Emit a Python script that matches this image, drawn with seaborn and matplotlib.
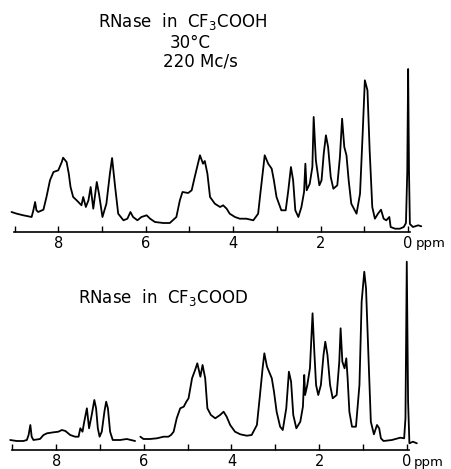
import numpy as np
import pandas as pd
import seaborn as sns
import matplotlib.pyplot as plt


# Spectrum traces (ppm, relative intensity)
top_ppm = [9.07, 8.95, 8.80, 8.61, 8.57, 8.53, 8.50, 8.46, 8.34, 8.27, 8.19, 8.11, 8.00,
           7.92, 7.89, 7.81, 7.76, 7.72, 7.66, 7.58, 7.47, 7.43, 7.37, 7.31, 7.26, 7.20,
           7.12, 7.07, 6.99, 6.90, 6.82, 6.77, 6.70, 6.63, 6.51, 6.42, 6.35, 6.29, 6.19,
           6.10, 5.98, 5.90, 5.79, 5.60, 5.45, 5.30, 5.22, 5.16, 5.03, 4.95, 4.88, 4.76,
           4.69, 4.65, 4.59, 4.53, 4.42, 4.30, 4.23, 4.15, 4.08, 3.96, 3.85, 3.70, 3.54,
           3.43, 3.38, 3.31, 3.28, 3.20, 3.12, 3.07, 3.01, 2.90, 2.80, 2.74, 2.68, 2.63,
           2.58, 2.51, 2.44, 2.38, 2.35, 2.32, 2.25, 2.19, 2.16, 2.11, 2.03, 1.98, 1.93,
           1.88, 1.83, 1.77, 1.71, 1.62, 1.56, 1.51, 1.46, 1.41, 1.36, 1.30, 1.18, 1.10,
           1.04, 0.99, 0.93, 0.88, 0.82, 0.76, 0.69, 0.62, 0.56, 0.50, 0.43, 0.40, 0.30,
           0.19, 0.10, 0.05, 0.02, 0.0, -0.02, -0.04, -0.11, -0.23, -0.30]
top_int = [20, 18.3, 16.7, 15, 21.7, 30, 21.7, 20, 22.3, 35, 51.7, 60, 61.7,
           70, 74.3, 70, 58.3, 45, 35, 31.7, 26.7, 35, 25, 31.7, 45, 23.3,
           50, 38.3, 15, 28.3, 58.3, 74, 45, 18.3, 11.7, 13.3, 20, 15, 11.7,
           15, 16.7, 13.3, 10, 9, 9, 15, 31.7, 40, 39, 41.7, 55, 76.7,
           68.3, 71, 58.3, 35, 28.3, 25, 26.7, 23.3, 18.3, 15, 13.3, 13.3, 11.7,
           18.3, 38.3, 65, 76.7, 68.3, 63.3, 51.7, 35, 21.7, 21.7, 41.7, 65, 51.7,
           21.7, 15, 25, 40, 68.3, 41.7, 48.3, 65, 115, 71.7, 46.7, 51.7, 78.3,
           96.7, 85, 55, 43.3, 46.7, 75, 113.3, 85, 76.7, 51.7, 28.3, 18.3, 38.3,
           98.3, 151.7, 141.7, 81.7, 25, 13.3, 18.3, 22.3, 13.3, 11.7, 15, 5, 3.3,
           3.3, 5, 9, 60, 163, 60, 8, 5, 6.7, 5.7]

# None marks the break in the lower recording
bot_ppm = [9.05, 8.90, 8.75, 8.67, 8.63, 8.59, 8.56, 8.52, 8.37, 8.29, 8.21, 8.06, 7.95,
           7.87, 7.79, 7.68, 7.57, 7.49, 7.45, 7.40, 7.36, 7.30, 7.25, 7.19, 7.13, 7.09,
           7.05, 7.01, 6.96, 6.90, 6.86, 6.82, 6.77, 6.71, 6.54, 6.39, 6.20, None, 6.08,
           6.01, 5.86, 5.70, 5.55, 5.44, 5.38, 5.32, 5.25, 5.17, 5.09, 5.03, 4.98, 4.90,
           4.83, 4.78, 4.71, 4.66, 4.60, 4.55, 4.47, 4.37, 4.26, 4.18, 4.11, 4.03, 3.92,
           3.80, 3.65, 3.54, 3.42, 3.35, 3.29, 3.25, 3.19, 3.08, 3.03, 2.97, 2.89, 2.83,
           2.75, 2.69, 2.64, 2.59, 2.52, 2.43, 2.37, 2.34, 2.32, 2.27, 2.21, 2.15, 2.11,
           2.07, 2.02, 1.96, 1.90, 1.86, 1.81, 1.75, 1.69, 1.60, 1.54, 1.51, 1.47, 1.42,
           1.38, 1.35, 1.31, 1.25, 1.16, 1.08, 1.03, 0.97, 0.93, 0.87, 0.82, 0.75, 0.68,
           0.63, 0.59, 0.53, 0.34, 0.15, 0.06, 0.03, 0.0, -0.03, -0.06, -0.14, -0.23]
bot_int = [10, 9, 9, 10, 15, 25, 13.3, 10, 11, 15, 16.7, 17.7, 18.3,
           20, 19, 15, 13.3, 13.3, 21.7, 18.3, 28.3, 41.7, 21.7, 35, 50, 41.7,
           21.7, 13.3, 18.3, 38.3, 48.3, 41.7, 18.3, 10, 10, 11, 9, None, 13.3,
           11, 11, 11.7, 13.3, 13.3, 15, 18.3, 31.7, 41.7, 43.3, 48.3, 51.7, 71.7,
           80, 86.7, 73.3, 85, 71.7, 41.7, 35, 31.7, 35, 38.3, 33.3, 25, 18.3,
           15.7, 14.3, 15, 25, 55, 81.7, 96.7, 83.3, 71.7, 58.3, 38.3, 23.3, 20,
           41.7, 78.3, 68.3, 35, 21.7, 28.3, 43.3, 75, 55, 65, 81.7, 136.7, 98.3,
           65, 55, 65, 95, 108.3, 95, 65, 51.7, 55, 88.3, 121.7, 88.3, 81.7,
           91.7, 71.7, 38.3, 23.3, 23.3, 65, 148.3, 178.3, 161.7, 88.3, 28.3, 15.7, 25,
           21.7, 11.7, 9, 10, 12.3, 11.7, 31.7, 188.3, 48.3, 6.7, 8.3, 6.7]

tick_pos = list(range(0, 10))
tick_labels = ['0', '', '2', '', '4', '', '6', '', '8', '']

top_title = ['RNase  in  CF$_3$COOH', '30\u00b0C', '220 Mc/s']
bot_title = 'RNase  in  CF$_3$COOD'


def to_frame(ppm, inten):
    df = pd.DataFrame({'ppm': ppm, 'intensity': inten}, dtype=float)
    df['seg'] = df['ppm'].isna().cumsum()
    return df.dropna()


sns.set_style('white')
plt.rcParams['font.family'] = ['DejaVu Sans']
plt.rcParams['text.color'] = 'black'
plt.rcParams['xtick.color'] = 'black'
plt.rcParams['axes.edgecolor'] = 'black'

fig = plt.figure(figsize=(4.51, 4.69), dpi=100)
W, H = 451, 469


def make_axes(y_axis, y_top, xlim):
    ax = fig.add_axes([8 / W, 1 - y_axis / H, 422 / W, (y_axis - y_top) / H])
    ax.set_xlim(*xlim)
    ax.set_ylim(0, y_axis - y_top)
    return ax


ax_top = make_axes(232, 58, (9.15, -0.5))
ax_bot = make_axes(450, 255, (9.10, -0.53))

for ax, ppm, inten in [(ax_top, top_ppm, top_int), (ax_bot, bot_ppm, bot_int)]:
    sns.lineplot(data=to_frame(ppm, inten), x='ppm', y='intensity', units='seg',
                 estimator=None, sort=False, color='black', lw=1.3, ax=ax)
    for side in ['top', 'left', 'right']:
        ax.spines[side].set_visible(False)
    ax.spines['bottom'].set_bounds(9.02, -0.04)
    ax.spines['bottom'].set_linewidth(1.2)
    ax.set_xticks(tick_pos)
    ax.set_xticklabels(tick_labels)
    ax.set_yticks([])
    ax.tick_params(axis='x', bottom=True, direction='in', length=4, width=1,
                   pad=3, labelsize=10.5, colors='black')
    ax.set_xlabel('')
    ax.set_ylabel('')
    ax.text(-0.17, -0.03, 'ppm', transform=ax.get_xaxis_transform(),
            ha='left', va='top', fontsize=9.5)

fig.text(183 / W, 1 - 22 / H, top_title[0], ha='center', va='center', fontsize=12)
fig.text(190 / W, 1 - 43 / H, top_title[1], ha='center', va='center', fontsize=12)
fig.text(200 / W, 1 - 61 / H, top_title[2], ha='center', va='center', fontsize=12)
fig.text(163 / W, 1 - 297 / H, bot_title, ha='center', va='center', fontsize=12)

fig.savefig('out.png', dpi=100)
